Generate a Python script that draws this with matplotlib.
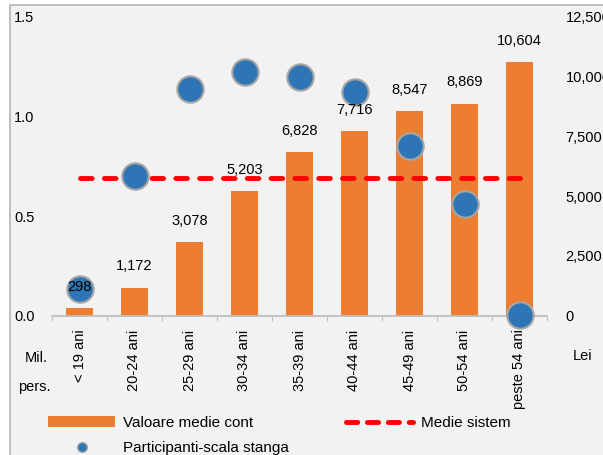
import matplotlib
matplotlib.use("Agg")
import matplotlib.pyplot as plt
from matplotlib.patches import Rectangle
from matplotlib.lines import Line2D
from matplotlib.ticker import FuncFormatter

# date
grupe = ["< 19 ani", "20-24 ani", "25-29 ani", "30-34 ani", "35-39 ani",
         "40-44 ani", "45-49 ani", "50-54 ani", "peste 54 ani"]
valoare_medie = [298, 1172, 3078, 5203, 6828, 7716, 8547, 8869, 10604]   # lei
participanti = [0.134, 0.70, 1.137, 1.222, 1.20, 1.122, 0.851, 0.562, 0.003]  # mil. pers.
medie_sistem = 5750

W, H = 603, 455
plt.rcParams['font.family'] = ['Liberation Sans', 'DejaVu Sans']
plt.rcParams['font.size'] = 10.5

ORANGE = '#ED7D31'
BLUE = '#2E75B6'
GRAY = '#bfbfbf'


def fx(px):
    return px / W


def fy(py):
    return (H - py) / H


fig = plt.figure(figsize=(W / 100, H / 100), dpi=100, facecolor='white')
fig.patches.append(Rectangle((fx(10), -0.1), 1.0, fy(5) + 0.1, transform=fig.transFigure,
                             facecolor='#f2f2f2', edgecolor='#b0b0b0', linewidth=1.1, zorder=-5))

ax = fig.add_axes([fx(52), fy(315.5), fx(547) - fx(52), fy(17) - fy(315.5)])
ax2 = ax.twinx()
ax.set_facecolor('none')
ax2.set_facecolor('none')
x = list(range(len(grupe)))

# bare + medie sistem pe scala din dreapta
ax.bar(x, valoare_medie, width=0.5, color=ORANGE, zorder=2)
ax.plot(x, [medie_sistem] * len(x), color='#FF0000', lw=3.5, dashes=(2.4, 2.5),
        dash_capstyle='round', zorder=3)
ax.set_ylim(0, 12500)
ax.set_xlim(-0.5, len(grupe) - 0.5)
ax.yaxis.tick_right()
ax.set_yticks([0, 2500, 5000, 7500, 10000, 12500])
ax.yaxis.set_major_formatter(FuncFormatter(lambda v, p: f"{int(v):,}"))
ax.tick_params(axis='y', length=0, pad=13.5)

ax.set_xticks(x)
ax.set_xticklabels(grupe, rotation=90, va='top', ha='center')
ax.set_xticks([i - 0.5 for i in range(len(grupe) + 1)], minor=True)
ax.tick_params(axis='x', which='major', length=0, pad=10)
ax.tick_params(axis='x', which='minor', length=3.6, width=0.8, color=GRAY, direction='out')
for s in ['top', 'left', 'right']:
    ax.spines[s].set_visible(False)
ax.spines['bottom'].set_color(GRAY)
ax.spines['bottom'].set_linewidth(1.3)

# participanti pe scala din stanga
ax2.plot(x, participanti, linestyle='none', marker='o', markersize=19,
         markerfacecolor=BLUE, markeredgecolor='#a6a6a6', markeredgewidth=1.5,
         zorder=3, clip_on=False)
ax2.set_ylim(0, 1.5)
ax2.yaxis.tick_left()
ax2.set_yticks([0, 0.5, 1.0, 1.5])
ax2.yaxis.set_major_formatter(FuncFormatter(lambda v, p: f"{v:.1f}"))
ax2.tick_params(axis='y', length=0, pad=27.4)
for lab in ax2.get_yticklabels():
    lab.set_horizontalalignment('left')
for s in ax2.spines.values():
    s.set_visible(False)

for i, v in enumerate(valoare_medie):
    ax2.annotate(f"{v:,}", xy=(i, v), xycoords=ax.transData, xytext=(0, 12.5),
                 textcoords='offset points', ha='center', va='baseline', zorder=5)

fig.text(fx(36), fy(358), "Mil.", ha='center', va='center')
fig.text(fx(34), fy(387), "pers.", ha='center', va='center')
fig.text(fx(583), fy(356), "Lei", ha='center', va='center')

handles = [
    Rectangle((0, 0), 1, 1, facecolor=ORANGE),
    Line2D([], [], linestyle='none', marker='o', markersize=7, markerfacecolor=BLUE,
           markeredgecolor='#a6a6a6', markeredgewidth=1),
    Line2D([], [], color='#FF0000', lw=3.5, dashes=(2.3, 2.0), dash_capstyle='round'),
]
labels = ["Valoare medie cont", "Participanti-scala stanga", "Medie sistem"]
fig.legend(handles, labels, loc='upper left', bbox_to_anchor=(fx(48), fy(416)),
           ncol=2, frameon=False, borderpad=0, borderaxespad=0, handlelength=4.4,
           handleheight=0.7, handletextpad=0.5, columnspacing=3.75, labelspacing=0.72,
           fontsize=11)

fig.savefig("out.png", dpi=100, facecolor='white')
